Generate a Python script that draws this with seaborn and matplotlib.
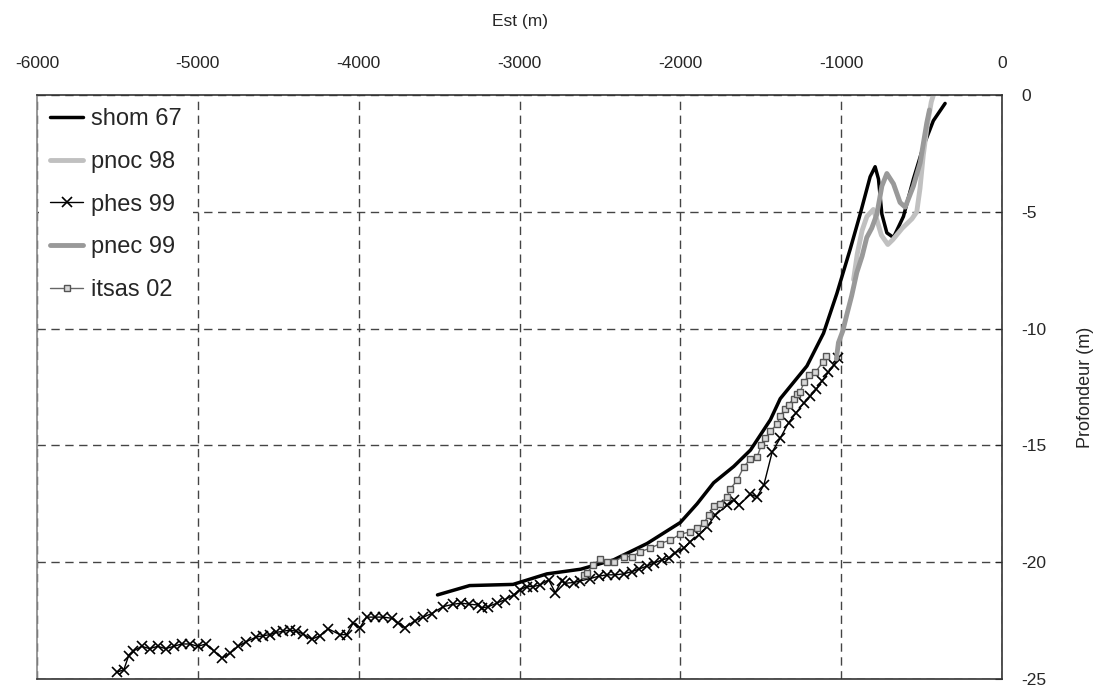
import numpy as np
import pandas as pd
import matplotlib
matplotlib.use("Agg")
import matplotlib.pyplot as plt
import seaborn as sns

# ── Data ─────────────────────────────────────────────────────────────────────
shom_x = [-3510, -3310, -3040, -2830, -2620, -2415, -2207, -2000, -1896, -1793,
          -1668, -1564, -1440, -1379, -1213, -1110, -1027, -944, -882, -820,
          -789, -768, -747, -716, -675, -613, -551, -489, -427, -354]
shom_y = [-21.4, -21.0, -20.95, -20.5, -20.3, -19.9, -19.2, -18.3, -17.5, -16.6,
          -15.9, -15.2, -13.9, -13.0, -11.6, -10.2, -8.5, -6.6, -5.1, -3.5,
          -3.07, -3.6, -5.1, -5.9, -6.1, -5.2, -3.6, -2.2, -1.1, -0.36]

pnoc_x = [-923, -900, -870, -840, -800, -780, -750, -710, -680, -620, -560,
          -530, -510, -490, -465, -440, -420]
pnoc_y = [-7.9, -6.8, -5.8, -5.2, -4.9, -5.3, -6.0, -6.4, -6.2, -5.7, -5.3,
          -5.0, -4.0, -2.6, -1.3, -0.3, 0.15]

phes_x = [-5500, -5460, -5430, -5400, -5350, -5300, -5250, -5200, -5150, -5100,
          -5050, -5000, -4950, -4900, -4850, -4800, -4750, -4698, -4636, -4594,
          -4553, -4511, -4470, -4428, -4387, -4345, -4293, -4241, -4190, -4117,
          -4075, -4034, -3992, -3951, -3899, -3847, -3795, -3754, -3712, -3650,
          -3598, -3547, -3474, -3412, -3361, -3311, -3259, -3234, -3193, -3141,
          -3089, -3037, -2996, -2954, -2913, -2871, -2819, -2778, -2737, -2716,
          -2664, -2622, -2560, -2508, -2456, -2405, -2353, -2301, -2259, -2207,
          -2166, -2114, -2073, -2031, -1979, -1938, -1886, -1834, -1782, -1709,
          -1668, -1637, -1564, -1523, -1481, -1429, -1380, -1327, -1280, -1234,
          -1193, -1155, -1120, -1079, -1043, -1017]
phes_y = [-24.7, -24.6, -24.0, -23.8, -23.6, -23.7, -23.6, -23.7, -23.6, -23.5,
          -23.5, -23.6, -23.5, -23.8, -24.1, -23.9, -23.6, -23.4, -23.2, -23.15,
          -23.1, -23.0, -22.96, -22.9, -22.96, -23.07, -23.3, -23.15, -22.85, -23.1,
          -23.1, -22.6, -22.8, -22.35, -22.35, -22.35, -22.4, -22.6, -22.8, -22.5,
          -22.35, -22.2, -21.9, -21.8, -21.75, -21.8, -21.83, -21.96, -21.9, -21.75,
          -21.6, -21.4, -21.18, -21.04, -21.04, -20.97, -20.75, -21.3, -20.8, -20.9,
          -20.87, -20.8, -20.7, -20.6, -20.54, -20.54, -20.5, -20.4, -20.3, -20.16,
          -20.04, -19.9, -19.83, -19.6, -19.4, -19.12, -18.83, -18.48, -17.98, -17.56,
          -17.34, -17.56, -17.1, -17.2, -16.7, -15.28, -14.7, -14.03, -13.6, -13.2,
          -12.9, -12.6, -12.25, -11.87, -11.54, -11.25]

pnec_x = [-1030, -1017, -990, -965, -935, -903, -870, -841, -810, -778, -747,
          -716, -675, -634, -602, -551, -509, -468, -451]
pnec_y = [-11.3, -10.6, -10.1, -9.4, -8.6, -7.6, -6.9, -6.1, -5.7, -5.1, -3.9,
          -3.36, -3.8, -4.6, -4.8, -3.9, -2.9, -1.2, -0.64]

itsas_x = [-2602, -2581, -2540, -2498, -2456, -2415, -2353, -2301, -2249, -2187,
           -2124, -2062, -2000, -1938, -1896, -1855, -1823, -1792, -1751, -1709,
           -1689, -1647, -1606, -1564, -1523, -1497, -1472, -1441, -1400, -1379,
           -1352, -1327, -1296, -1275, -1255, -1230, -1203, -1161, -1114, -1095]
itsas_y = [-20.54, -20.47, -20.1, -19.87, -19.97, -19.97, -19.76, -19.76, -19.55, -19.4,
           -19.2, -19.05, -18.8, -18.7, -18.55, -18.34, -17.98, -17.6, -17.49, -17.2,
           -16.85, -16.5, -15.92, -15.57, -15.5, -15.0, -14.7, -14.4, -14.1, -13.75,
           -13.46, -13.25, -13.0, -12.8, -12.7, -12.3, -12.0, -11.87, -11.44, -11.18]

x_ticks = [-6000, -5000, -4000, -3000, -2000, -1000, 0]
y_ticks = [0, -5, -10, -15, -20, -25]

# ── Figure ───────────────────────────────────────────────────────────────────
sns.set_style("white")
plt.rcParams["font.family"] = ["Liberation Sans", "DejaVu Sans"]
plt.rcParams["axes.unicode_minus"] = False

fig = plt.figure(figsize=(11.01, 6.89), dpi=100)
ax = fig.add_axes([0.0336, 0.0145, 0.8765, 0.8476])

common = dict(ax=ax, sort=False, estimator=None)
sns.lineplot(x=shom_x, y=shom_y, color="black", lw=2.5, label="shom 67", **common)
sns.lineplot(x=pnoc_x, y=pnoc_y, color="#c0c0c0", lw=3.5, label="pnoc 98", **common)
sns.lineplot(x=phes_x, y=phes_y, color="black", lw=1, marker="x", markersize=7,
             mec="black", mew=1.2, label="phes 99", **common)
sns.lineplot(x=pnec_x, y=pnec_y, color="#999999", lw=3.5, label="pnec 99", **common)
sns.lineplot(x=itsas_x, y=itsas_y, color="#666666", lw=1, marker="s", markersize=4.5,
             mfc="#d8d8d8", mec="#555555", mew=1, label="itsas 02", **common)

ax.set_xlim(-6000, 0)
ax.set_ylim(-25, 0)
ax.set_xticks(x_ticks)
ax.set_yticks(y_ticks)

ax.xaxis.tick_top()
ax.xaxis.set_label_position("top")
ax.yaxis.tick_right()
ax.yaxis.set_label_position("right")
ax.tick_params(axis="x", length=0, pad=17, labelsize=12.5)
ax.tick_params(axis="y", direction="in", length=5, pad=14, labelsize=12.5)
ax.set_xlabel("Est (m)", fontsize=12.5, labelpad=22)
ax.set_ylabel("Profondeur (m)", fontsize=13, labelpad=22)

ax.grid(True, color="#444444", lw=1, linestyle=(0, (6, 4)))
for s in ax.spines.values():
    s.set_color("#333333")
    s.set_linewidth(1.2)
ax.spines["left"].set_color("#888888")

leg = ax.legend(loc="upper left", frameon=True, fontsize=17, handlelength=1.4,
                handletextpad=0.35, labelspacing=0.88, borderaxespad=0.1,
                borderpad=0.45, fancybox=False)
leg.get_frame().set_facecolor("white")
leg.get_frame().set_edgecolor("none")
leg.get_frame().set_alpha(1)

fig.savefig("out.png", dpi=100)
